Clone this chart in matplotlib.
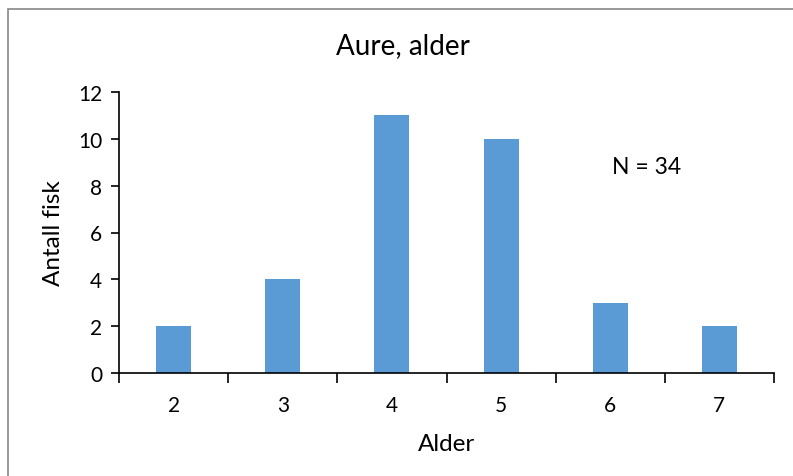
import matplotlib
matplotlib.use("Agg")
import matplotlib.pyplot as plt
from matplotlib.patches import Rectangle
import numpy as np

ages = ["2", "3", "4", "5", "6", "7"]
counts = [2, 4, 11, 10, 3, 2]
title = "Aure, alder"
xlabel = "Alder"
ylabel = "Antall fisk"
note = "N = 34"

plt.rcParams['font.family'] = ['Lato', 'DejaVu Sans']

fig = plt.figure(figsize=(7.93, 4.77), dpi=100)
W, H = 793, 477
ax = fig.add_axes([119 / W, 1 - 374 / H, (774 - 119) / W, (374 - 93) / H])

x = np.arange(len(ages))
ax.bar(x, counts, width=0.32, color="#5B9BD5", zorder=2)

ax.set_xlim(-0.5, len(ages) - 0.5)
ax.set_ylim(0, 12)
ax.set_yticks(range(0, 13, 2))
ax.set_xticks(x)
ax.set_xticklabels(ages)
ax.set_xticks(np.arange(-0.5, len(ages)), minor=True)
ax.tick_params(axis='x', which='major', length=0, pad=16, labelsize=15)
ax.tick_params(axis='x', which='minor', length=7, width=1.2, direction='out')
ax.tick_params(axis='y', length=6, width=1.2, direction='out', labelsize=15, pad=6)

for s in ['top', 'right']:
    ax.spines[s].set_visible(False)
for s in ['left', 'bottom']:
    ax.spines[s].set_linewidth(1.2)
    ax.spines[s].set_color('black')

ax.set_xlabel(xlabel, fontsize=17.5, labelpad=13)
ax.set_ylabel(ylabel, fontsize=17.5, labelpad=10)
fig.text(403 / W, 1 - 46 / H, title, ha='center', va='center', fontsize=20)
ax.text(4.33, 8.8, note, ha='center', va='center', fontsize=16.5)

fig.patches.append(Rectangle((8 / W, -0.1), 1.2, 1 - 10 / H + 0.1,
                             transform=fig.transFigure, fill=False,
                             edgecolor='#888888', linewidth=1.2))

fig.savefig("out.png", dpi=100)
